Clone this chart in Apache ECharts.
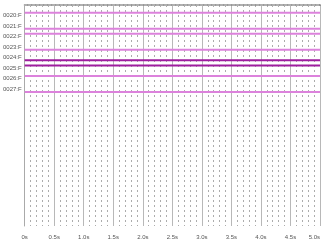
<!DOCTYPE html>
<html>
<head>
<meta charset="utf-8">
<script src="https://cdn.jsdelivr.net/npm/echarts@6/dist/echarts.min.js"></script>
<style>
  html, body { margin: 0; padding: 0; background: #fff; }
  #chart { width: 323px; height: 243px; }
</style>
</head>
<body>
<div id="chart"></div>
<script>
// Signal channels, one row each, top to bottom
const signalNames = ['0020:F', '0021:F', '0022:F', '0023:F', '0024:F', '0025:F', '0026:F', '0027:F'];
// Logic level of each channel over the captured window (1 = high, 0 = low)
const signalLevels = [1, 0, 1, 0, 0, 1, 1, 0];
// Capture window, seconds
const timeSpan = [0, 5];
// Time tick labels
const timeTicks = ['0s', '0.5s', '1.0s', '1.5s', '2.0s', '2.5s', '3.0s', '3.5s', '4.0s', '4.5s', '5.0s'];
// Number of rows the vertical axis is laid out for
const rowCount = 21;

const pink = '#dc82dc';
const purple = '#9e1d9e';
const channelColors = [pink, pink, pink, pink, purple, purple, pink, pink];

// Each channel sits around its row; a high level draws above the row, a low level below it
const rowHalfSwing = 0.26;
function levelToRow(i, level) {
  return (i + 1) + rowHalfSwing - level * rowHalfSwing * 2;
}

const series = signalNames.map((name, i) => ({
  name: name,
  type: 'line',
  symbol: 'none',
  silent: true,
  animation: false,
  lineStyle: { width: 2, color: channelColors[i] },
  data: timeSpan.map(t => [t, levelToRow(i, signalLevels[i])])
}));

const chart = echarts.init(document.getElementById('chart'), null, { renderer: 'canvas' });
chart.setOption({
  animation: false,
  grid: { left: 23, right: 1, top: 5, bottom: 17, containLabel: false },
  xAxis: [{
    type: 'value',
    min: timeSpan[0],
    max: timeSpan[1],
    interval: 0.5,
    axisLine: { show: true, lineStyle: { color: '#555', width: 1.5 } },
    axisTick: { show: false },
    axisLabel: {
      color: '#555',
      fontSize: 6,
      fontFamily: 'Liberation Sans Narrow, Liberation Sans, sans-serif',
      margin: 8,
      alignMaxLabel: 'right',
      formatter: (v) => timeTicks[Math.round(v / 0.5)]
    },
    splitLine: { show: true, lineStyle: { color: '#b8b8b8', width: 1 } },
    minorTick: { show: false, splitNumber: 5 },
    minorSplitLine: { show: true, lineStyle: { color: '#acacac', width: 1, type: [2, 3] } }
  }, {
    type: 'value',
    position: 'top',
    min: timeSpan[0],
    max: timeSpan[1],
    axisLine: { show: true, lineStyle: { color: '#b0b0b0', width: 2, type: 'dotted' } },
    axisTick: { show: false },
    axisLabel: { show: false },
    splitLine: { show: false }
  }],
  yAxis: {
    type: 'value',
    inverse: true,
    min: 0,
    max: rowCount,
    interval: 1,
    axisLine: { show: true, lineStyle: { color: '#aaa', width: 1 } },
    axisTick: { show: false },
    splitLine: { show: false },
    axisLabel: {
      color: '#555',
      fontSize: 6,
      fontFamily: 'Liberation Sans Narrow, Liberation Sans, sans-serif',
      margin: 3,
      showMinLabel: false,
      showMaxLabel: false,
      formatter: (v) => (v >= 1 && v <= signalNames.length) ? signalNames[v - 1] : ''
    }
  },
  series: series
});
</script>
</body>
</html>
